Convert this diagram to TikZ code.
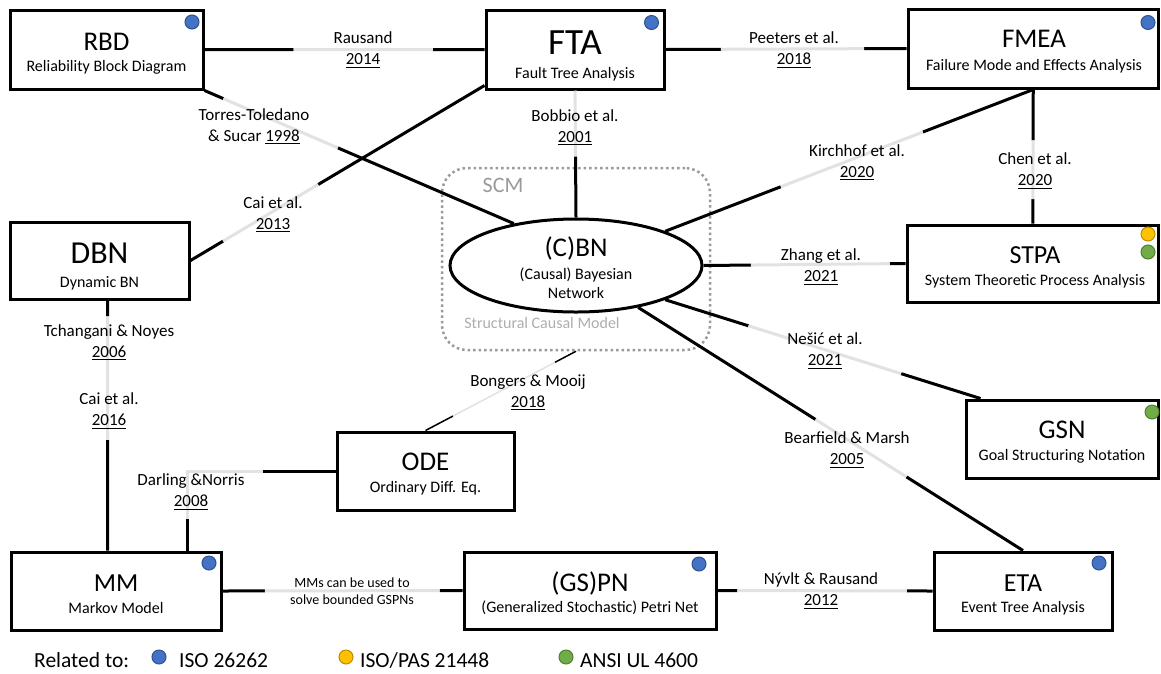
\documentclass[tikz,border=0pt]{standalone}
\usepackage{fontspec}
\setmainfont{Carlito}
\usetikzlibrary{calc,shapes.geometric}
\newcommand{\yrline}[1]{\setbox0\hbox{#1}\rlap{\raisebox{-3pt}{\rule{\wd0}{1.2pt}}}\box0}
\definecolor{isoblue}{HTML}{4472C4}
\definecolor{isoblueb}{HTML}{2F528F}
\definecolor{pasyellow}{HTML}{FFC000}
\definecolor{pasyellowb}{HTML}{BC8C00}
\definecolor{ulgreen}{HTML}{70AD47}
\definecolor{ulgreenb}{HTML}{507E32}
\definecolor{fadegray}{HTML}{E2E2E2}
\definecolor{scmgray}{HTML}{9A9A9A}
\tikzset{
  block/.style={draw, line width=3pt, inner sep=0pt},
  head/.style={font=\fontsize{27}{30}\selectfont, inner sep=0pt},
  subhead/.style={font=\fontsize{16}{19}\selectfont, inner sep=0pt, align=center},
  cite/.style={font=\fontsize{17}{21}\selectfont, inner sep=0pt, align=center},
  citesmall/.style={font=\fontsize{14}{17}\selectfont, inner sep=0pt, align=center},
  legend/.style={font=\fontsize{21.5}{24}\selectfont, inner sep=0pt, anchor=west},
  link/.style={line width=3pt, black},
  fade/.style={line width=3pt, fadegray},
  isodot/.style={circle, line width=1pt, minimum size=14pt, inner sep=0pt},
}
\begin{document}
\begin{tikzpicture}[x=1pt, y=-1pt]
\useasboundingbox[fill=white] (0,0) rectangle (1161,673);

% structural causal model frame
\node[draw=scmgray, line width=2.5pt, dash pattern=on 2.5pt off 3pt, rounded corners=25pt,
  minimum width=268pt, minimum height=182pt] (scm) at (576,259) {};
\node[font=\fontsize{22}{24}\selectfont, text=scmgray, inner sep=0pt] (scmt) at (503,185) {SCM};
\node[subhead, text=scmgray!80] (scml) at (542,323) {Structural Causal Model};

% blocks
\node[block, minimum width=193pt, minimum height=79pt] (rbd) at (106.5,49.5) {};
\node[block, minimum width=178pt, minimum height=79pt] (fta) at (575,49.5) {};
\node[block, minimum width=250.5pt, minimum height=79pt] (fmea) at (1033.25,48.5) {};
\node[block, minimum width=179pt, minimum height=77pt] (dbn) at (99.5,260.5) {};
\node[block, ellipse, minimum width=252pt, minimum height=93pt] (cbn) at (576,265.5) {};
\node[block, minimum width=251.5pt, minimum height=77pt] (stpa) at (1032.75,263.5) {};
\node[block, minimum width=192.5pt, minimum height=78pt] (gsn) at (1062.25,439) {};
\node[block, minimum width=177pt, minimum height=78pt] (ode) at (425.5,471) {};
\node[block, minimum width=210pt, minimum height=78pt] (mm) at (116,591) {};
\node[block, minimum width=252pt, minimum height=77pt] (gspn) at (590,590.5) {};
\node[block, minimum width=178pt, minimum height=78pt] (eta) at (1023,591) {};

% block texts
\node[head] (rbdh) at (106.5,42) {RBD};
\node[subhead] (rbds) at (106.5,67) {Reliability Block Diagram};
\node[head, font=\fontsize{37}{40}\selectfont] (ftah) at (575,43) {FTA};
\node[subhead] (ftas) at (575,74) {Fault Tree Analysis};
\node[head] (fmeah) at (1034,39) {FMEA};
\node[subhead] (fmeas) at (1034,66) {Failure Mode and Effects Analysis};
\node[head, font=\fontsize{32}{35}\selectfont] (dbnh) at (99.5,253) {DBN};
\node[subhead] (dbns) at (99.5,283) {Dynamic BN};
\node[head] (cbnh) at (576,248) {(C)BN};
\node[subhead] (cbns) at (576,283) {(Causal) Bayesian\\Network};
\node[head, font=\fontsize{26}{29}\selectfont] (stpah) at (1035,255) {STPA};
\node[subhead] (stpas) at (1035,281) {System Theoretic Process Analysis};
\node[head] (gsnh) at (1062,430) {GSN};
\node[subhead] (gsns) at (1062,456) {Goal Structuring Notation};
\node[head] (odeh) at (425.5,462) {ODE};
\node[subhead] (odes) at (425.5,488) {Ordinary Diff. Eq.};
\node[head, font=\fontsize{26}{29}\selectfont] (mmh) at (116,583) {MM};
\node[subhead] (mms) at (116,608) {Markov Model};
\node[head] (gspnh) at (590,583) {(GS)PN};
\node[subhead] (gspns) at (590,608) {(Generalized Stochastic) Petri Net};
\node[head, font=\fontsize{26}{29}\selectfont] (etah) at (1023,583) {ETA};
\node[subhead] (etas) at (1023,608) {Event Tree Analysis};

% standard markers
\node[isodot, fill=isoblue, draw=isoblueb] (rbdd) at (192,22) {};
\node[isodot, fill=isoblue, draw=isoblueb] (ftad) at (651.5,22.5) {};
\node[isodot, fill=isoblue, draw=isoblueb] (fmead) at (1148,22.5) {};
\node[isodot, fill=pasyellow, draw=pasyellowb] (stpad1) at (1148,234) {};
\node[isodot, fill=ulgreen, draw=ulgreenb] (stpad2) at (1148,252) {};
\node[isodot, fill=ulgreen, draw=ulgreenb] (gsnd) at (1152,412) {};
\node[isodot, fill=isoblue, draw=isoblueb] (mmd) at (209,563) {};
\node[isodot, fill=isoblue, draw=isoblueb] (gspnd) at (699,564) {};
\node[isodot, fill=isoblue, draw=isoblueb] (etad) at (1099,563) {};

% connectors
\draw[link] (rbd.east) -- ($(rbd.east)!.318!(fta.west)$) ($(rbd.east)!.816!(fta.west)$) -- (fta.west);
\draw[fade] ($(rbd.east)!.318!(fta.west)$) -- ($(rbd.east)!.816!(fta.west)$);
\draw[link] (fta.east) -- ($(fta.east)!.23!(fmea.west)$) ($(fta.east)!.824!(fmea.west)$) -- (fmea.west);
\draw[fade] ($(fta.east)!.23!(fmea.west)$) -- ($(fta.east)!.824!(fmea.west)$);
\draw[link] (rbd.south east) -- ($(rbd.south east)!.061!(cbn.146)$) ($(rbd.south east)!.431!(cbn.146)$) -- (cbn.146);
\draw[fade] ($(rbd.south east)!.061!(cbn.146)$) -- ($(rbd.south east)!.431!(cbn.146)$);
\coordinate (ftal) at ($(fta.south west)+(0,-5)$);
\draw[link] (ftal) -- ($(ftal)!.566!(dbn.east)$) ($(ftal)!.889!(dbn.east)$) -- (dbn.east);
\draw[fade] ($(ftal)!.566!(dbn.east)$) -- ($(ftal)!.889!(dbn.east)$);
\draw[fade] (fta.south) -- ($(fta.south)!.52!(cbn.north)$);
\draw[link] ($(fta.south)!.52!(cbn.north)$) -- (cbn.north);
\draw[link] (fmea.south) -- ($(fmea.south)!.30!(cbn.21)$) ($(fmea.south)!.686!(cbn.21)$) -- (cbn.21);
\draw[fade] ($(fmea.south)!.30!(cbn.21)$) -- ($(fmea.south)!.686!(cbn.21)$);
\draw[link] (fmea.south) -- ($(fmea.south)!.38!(stpa.north)$) ($(fmea.south)!.818!(stpa.north)$) -- (stpa.north);
\draw[fade] ($(fmea.south)!.38!(stpa.north)$) -- ($(fmea.south)!.818!(stpa.north)$);
\draw[link] (cbn.east) -- ($(cbn.east)!.234!(stpa.west)$) ($(cbn.east)!.922!(stpa.west)$) -- (stpa.west);
\draw[fade] ($(cbn.east)!.234!(stpa.west)$) -- ($(cbn.east)!.922!(stpa.west)$);
\coordinate (gsnt) at ($(gsn.north west)+(16,0)$);
\draw[link] (cbn.-21) -- ($(cbn.-21)!.264!(gsnt)$) ($(cbn.-21)!.748!(gsnt)$) -- (gsnt);
\draw[fade] ($(cbn.-21)!.264!(gsnt)$) -- ($(cbn.-21)!.748!(gsnt)$);
\draw[link] (cbn.-34) -- ($(cbn.-34)!.461!(eta.north)$) ($(cbn.-34)!.697!(eta.north)$) -- (eta.north);
\draw[fade] ($(cbn.-34)!.461!(eta.north)$) -- ($(cbn.-34)!.697!(eta.north)$);
\draw[link, line width=1.5pt] (ode.north) -- ($(ode.north)!.183!(scm.south)$) ($(ode.north)!.86!(scm.south)$) -- (scm.south);
\draw[fade, line width=1.5pt] ($(ode.north)!.183!(scm.south)$) -- ($(ode.north)!.86!(scm.south)$);
\coordinate (dbnb) at ($(dbn.south west)+(99,0)$);
\coordinate (mmt) at ($(mm.north west)+(98,0)$);
\draw[link] (dbnb) -- ($(dbnb)!.063!(mmt)$) ($(dbnb)!.557!(mmt)$) -- (mmt);
\draw[fade] ($(dbnb)!.063!(mmt)$) -- ($(dbnb)!.557!(mmt)$);
\coordinate (mmr) at ($(mm.north east)+(-35,0)$);
\draw[link] (ode.west) -- ($(ode.west)+(-73,0)$) ($(mmr)+(0,-32)$) -- (mmr);
\draw[fade] ($(ode.west)+(-73,0)$) -| ($(mmr)+(0,-32)$);
\draw[link] (mm.east) -- ($(mm.east)!.177!(gspn.west)$) ($(mm.east)!.905!(gspn.west)$) -- (gspn.west);
\draw[fade] ($(mm.east)!.177!(gspn.west)$) -- ($(mm.east)!.905!(gspn.west)$);
\draw[link] (gspn.east) -- ($(gspn.east)!.092!(eta.west)$) ($(gspn.east)!.881!(eta.west)$) -- (eta.west);
\draw[fade] ($(gspn.east)!.092!(eta.west)$) -- ($(gspn.east)!.881!(eta.west)$);

% references
\node[cite] (c1) at (363,50) {Rausand\\\yrline{2014}};
\node[cite] (c2) at (794,50) {Peeters et al.\\\yrline{2018}};
\node[cite] (c3) at (254,126.5) {Torres-Toledano\\\& Sucar \yrline{1998}};
\node[cite] (c4) at (273,214.5) {Cai et al.\\\yrline{2013}};
\node[cite] (c5) at (575,127.5) {Bobbio et al.\\\yrline{2001}};
\node[cite] (c6) at (857,162.5) {Kirchhof et al.\\\yrline{2020}};
\node[cite] (c7) at (1035,171) {Chen et al.\\\yrline{2020}};
\node[cite] (c8) at (821,267) {Zhang et al.\\\yrline{2021}};
\node[cite] (c9) at (825,351) {Nešić et al.\\\yrline{2021}};
\node[cite] (c10) at (847,450) {Bearfield \& Marsh\\\yrline{2005}};
\node[cite] (c11) at (528,392.5) {Bongers \& Mooij\\\yrline{2018}};
\node[cite] (c12) at (109,342.5) {Tchangani \& Noyes\\\yrline{2006}};
\node[cite] (c13) at (109,411) {Cai et al.\\\yrline{2016}};
\node[cite] (c14) at (191,492) {Darling \&Norris\\\yrline{2008}};
\node[citesmall] (c15) at (352,591.5) {MMs can be used to\\solve bounded GSPNs};
\node[cite] (c16) at (821,591) {Nývlt \& Rausand\\\yrline{2012}};

% legend
\node[legend] (rel) at (34,660) {Related to:};
\node[isodot, fill=isoblue, draw=isoblueb] (lgd1) at (159,657) {};
\node[legend] (lgt1) at (179,660) {ISO 26262};
\node[isodot, fill=pasyellow, draw=pasyellowb] (lgd2) at (346,657) {};
\node[legend] (lgt2) at (360,660) {ISO/PAS 21448};
\node[isodot, fill=ulgreen, draw=ulgreenb] (lgd3) at (566,657) {};
\node[legend] (lgt3) at (580,660) {ANSI UL 4600};
\end{tikzpicture}
\end{document}
